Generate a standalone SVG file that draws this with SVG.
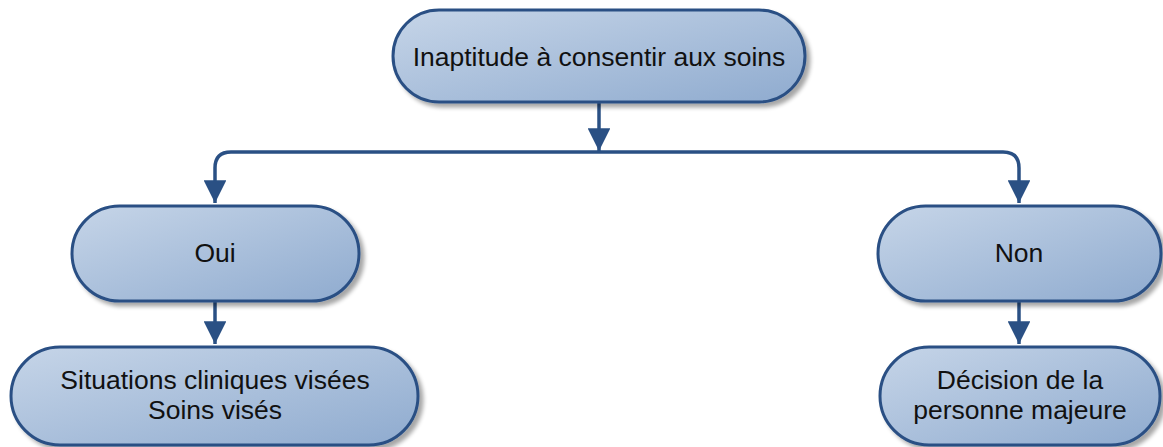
<svg xmlns="http://www.w3.org/2000/svg" width="1163" height="447" viewBox="0 0 1163 447">
<defs>
<linearGradient id="g" x1="0" y1="0" x2="1" y2="1">
<stop offset="0" stop-color="#c6d5e8"/>
<stop offset="1" stop-color="#8fabcf"/>
</linearGradient>
<filter id="sh" x="-10%" y="-10%" width="130%" height="140%">
<feGaussianBlur in="SourceAlpha" stdDeviation="2"/>
<feOffset dx="4" dy="4" result="b"/>
<feComponentTransfer><feFuncA type="linear" slope="0.35"/></feComponentTransfer>
<feMerge><feMergeNode/><feMergeNode in="SourceGraphic"/></feMerge>
</filter>
<marker id="ah" viewBox="0 0 10 10" refX="10" refY="5" markerWidth="6.5" markerHeight="6.5" markerUnits="strokeWidth" orient="auto">
<path d="M0,0 L10,5 L0,10 z" fill="#2a5084"/>
</marker>
</defs>
<style>
.n{fill:url(#g);stroke:#2a5084;stroke-width:3;filter:url(#sh)}
.t{font-family:"Liberation Sans",Arial,sans-serif;font-size:26.5px;fill:#111;text-anchor:middle}
.c{fill:none;stroke:#2a5084;stroke-width:3.5}
</style>
<g id="connectors">
<path class="c" d="M599,103 L599,151" marker-end="url(#ah)"/>
<path class="c" d="M599,152 L231,152 Q215,152 215,168 L215,203" marker-end="url(#ah)"/>
<path class="c" d="M599,152 L1003,152 Q1019,152 1019,168 L1019,203" marker-end="url(#ah)"/>
<path class="c" d="M215,302 L215,344" marker-end="url(#ah)"/>
<path class="c" d="M1019,302 L1019,344" marker-end="url(#ah)"/>
</g>
<g id="n1">
<rect class="n" x="393" y="10" width="412" height="92" rx="46"/>
<text class="t" x="599" y="66">Inaptitude à consentir aux soins</text>
</g>
<g id="n2">
<rect class="n" x="72" y="206" width="287" height="95" rx="47.5"/>
<text class="t" x="215" y="262">Oui</text>
</g>
<g id="n3">
<rect class="n" x="878" y="206" width="283" height="95" rx="47.5"/>
<text class="t" x="1019" y="262">Non</text>
</g>
<g id="n4">
<rect class="n" x="11" y="347" width="407" height="98" rx="49"/>
<text class="t" x="215" y="389">Situations cliniques visées</text>
<text class="t" x="215" y="419">Soins visés</text>
</g>
<g id="n5">
<rect class="n" x="880" y="347" width="280" height="98" rx="49"/>
<text class="t" x="1020" y="389">Décision de la</text>
<text class="t" x="1020" y="419">personne majeure</text>
</g>
</svg>
